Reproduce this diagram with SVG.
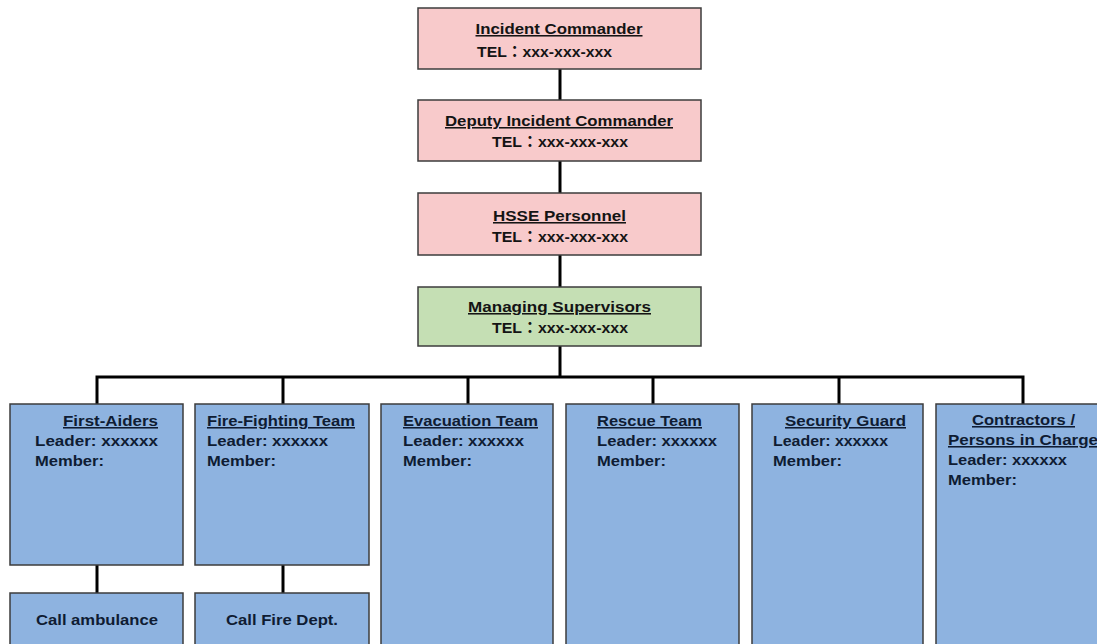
<svg xmlns="http://www.w3.org/2000/svg" width="1097" height="644" viewBox="0 0 1097 644">
<style>
  .pink { fill: #f8cacb; stroke: #3c3c3c; stroke-width: 1.5; }
  .green { fill: #c5dfb4; stroke: #3c3c3c; stroke-width: 1.5; }
  .blue { fill: #8eb3e0; stroke: #3c3c3c; stroke-width: 1.5; }
  .conn { stroke: #000; stroke-width: 3; fill: none; }
  text { font-family: "Liberation Sans", Arial, sans-serif; font-weight: bold; font-size: 15.5px; }
  .top { fill: #141414; }
  .team { fill: #0f1c33; }
  .ul { text-decoration: underline; }
  .tel { font-family: "Liberation Sans", "Noto Sans CJK TC", sans-serif; }
</style>
<rect width="1097" height="644" fill="#ffffff"/>
<g id="connectors">
  <line class="conn" x1="560" y1="69" x2="560" y2="100"/>
  <line class="conn" x1="560" y1="161" x2="560" y2="193"/>
  <line class="conn" x1="560" y1="255" x2="560" y2="287"/>
  <line class="conn" x1="560" y1="346" x2="560" y2="377"/>
  <polyline class="conn" points="97,404 97,377 1023,377 1023,404"/>
  <line class="conn" x1="283" y1="377" x2="283" y2="404"/>
  <line class="conn" x1="468" y1="377" x2="468" y2="404"/>
  <line class="conn" x1="653" y1="377" x2="653" y2="404"/>
  <line class="conn" x1="839" y1="377" x2="839" y2="404"/>
  <line class="conn" x1="97" y1="565" x2="97" y2="593"/>
  <line class="conn" x1="283" y1="565" x2="283" y2="593"/>
</g>
<g id="incident-commander">
  <rect class="pink" x="418" y="8" width="283" height="61"/>
  <text class="top ul" x="559" y="34" text-anchor="middle" textLength="167" lengthAdjust="spacingAndGlyphs">Incident Commander</text>
  <text class="top tel" x="477" y="57" textLength="135" lengthAdjust="spacingAndGlyphs">TEL：xxx-xxx-xxx</text>
</g>
<g id="deputy-incident-commander">
  <rect class="pink" x="418" y="100" width="283" height="61"/>
  <text class="top ul" x="559" y="126" text-anchor="middle" textLength="228" lengthAdjust="spacingAndGlyphs">Deputy Incident Commander</text>
  <text class="top tel" x="492" y="147" textLength="136" lengthAdjust="spacingAndGlyphs">TEL：xxx-xxx-xxx</text>
</g>
<g id="hsse-personnel">
  <rect class="pink" x="418" y="193" width="283" height="62"/>
  <text class="top ul" x="559.5" y="221" text-anchor="middle" textLength="133" lengthAdjust="spacingAndGlyphs">HSSE Personnel</text>
  <text class="top tel" x="492" y="242" textLength="136" lengthAdjust="spacingAndGlyphs">TEL：xxx-xxx-xxx</text>
</g>
<g id="managing-supervisors">
  <rect class="green" x="418" y="287" width="283" height="59"/>
  <text class="top ul" x="559.5" y="312" text-anchor="middle" textLength="183" lengthAdjust="spacingAndGlyphs">Managing Supervisors</text>
  <text class="top tel" x="492" y="333" textLength="136" lengthAdjust="spacingAndGlyphs">TEL：xxx-xxx-xxx</text>
</g>
<g id="first-aiders">
  <rect class="blue" x="10" y="404" width="173" height="161"/>
  <text class="team ul" x="63" y="426" textLength="95" lengthAdjust="spacingAndGlyphs">First-Aiders</text>
  <text class="team" x="35" y="446" textLength="123" lengthAdjust="spacingAndGlyphs">Leader: xxxxxx</text>
  <text class="team" x="35" y="466" textLength="69" lengthAdjust="spacingAndGlyphs">Member:</text>
</g>
<g id="fire-fighting-team">
  <rect class="blue" x="195" y="404" width="174" height="161"/>
  <text class="team ul" x="207" y="426" textLength="148" lengthAdjust="spacingAndGlyphs">Fire-Fighting Team</text>
  <text class="team" x="207" y="446" textLength="121" lengthAdjust="spacingAndGlyphs">Leader: xxxxxx</text>
  <text class="team" x="207" y="466" textLength="69" lengthAdjust="spacingAndGlyphs">Member:</text>
</g>
<g id="evacuation-team">
  <rect class="blue" x="381" y="404" width="172" height="250"/>
  <text class="team ul" x="403" y="426" textLength="135" lengthAdjust="spacingAndGlyphs">Evacuation Team</text>
  <text class="team" x="403" y="446" textLength="121" lengthAdjust="spacingAndGlyphs">Leader: xxxxxx</text>
  <text class="team" x="403" y="466" textLength="69" lengthAdjust="spacingAndGlyphs">Member:</text>
</g>
<g id="rescue-team">
  <rect class="blue" x="566" y="404" width="173" height="250"/>
  <text class="team ul" x="597" y="426" textLength="105" lengthAdjust="spacingAndGlyphs">Rescue Team</text>
  <text class="team" x="597" y="446" textLength="120" lengthAdjust="spacingAndGlyphs">Leader: xxxxxx</text>
  <text class="team" x="597" y="466" textLength="69" lengthAdjust="spacingAndGlyphs">Member:</text>
</g>
<g id="security-guard">
  <rect class="blue" x="752" y="404" width="171" height="250"/>
  <text class="team ul" x="785" y="426" textLength="121" lengthAdjust="spacingAndGlyphs">Security Guard</text>
  <text class="team" x="773" y="446" textLength="115" lengthAdjust="spacingAndGlyphs">Leader: xxxxxx</text>
  <text class="team" x="773" y="466" textLength="69" lengthAdjust="spacingAndGlyphs">Member:</text>
</g>
<g id="contractors">
  <rect class="blue" x="936" y="404" width="180" height="250"/>
  <text class="team ul" x="972" y="425" textLength="103" lengthAdjust="spacingAndGlyphs">Contractors /</text>
  <text class="team ul" x="948" y="445" textLength="150" lengthAdjust="spacingAndGlyphs">Persons in Charge</text>
  <text class="team" x="948" y="465" textLength="119" lengthAdjust="spacingAndGlyphs">Leader: xxxxxx</text>
  <text class="team" x="948" y="485" textLength="69" lengthAdjust="spacingAndGlyphs">Member:</text>
</g>
<g id="call-ambulance">
  <rect class="blue" x="10" y="593" width="173" height="60"/>
  <text class="team" x="36" y="625" textLength="122" lengthAdjust="spacingAndGlyphs">Call ambulance</text>
</g>
<g id="call-fire-dept">
  <rect class="blue" x="195" y="593" width="174" height="60"/>
  <text class="team" x="226" y="625" textLength="112" lengthAdjust="spacingAndGlyphs">Call Fire Dept.</text>
</g>
</svg>
